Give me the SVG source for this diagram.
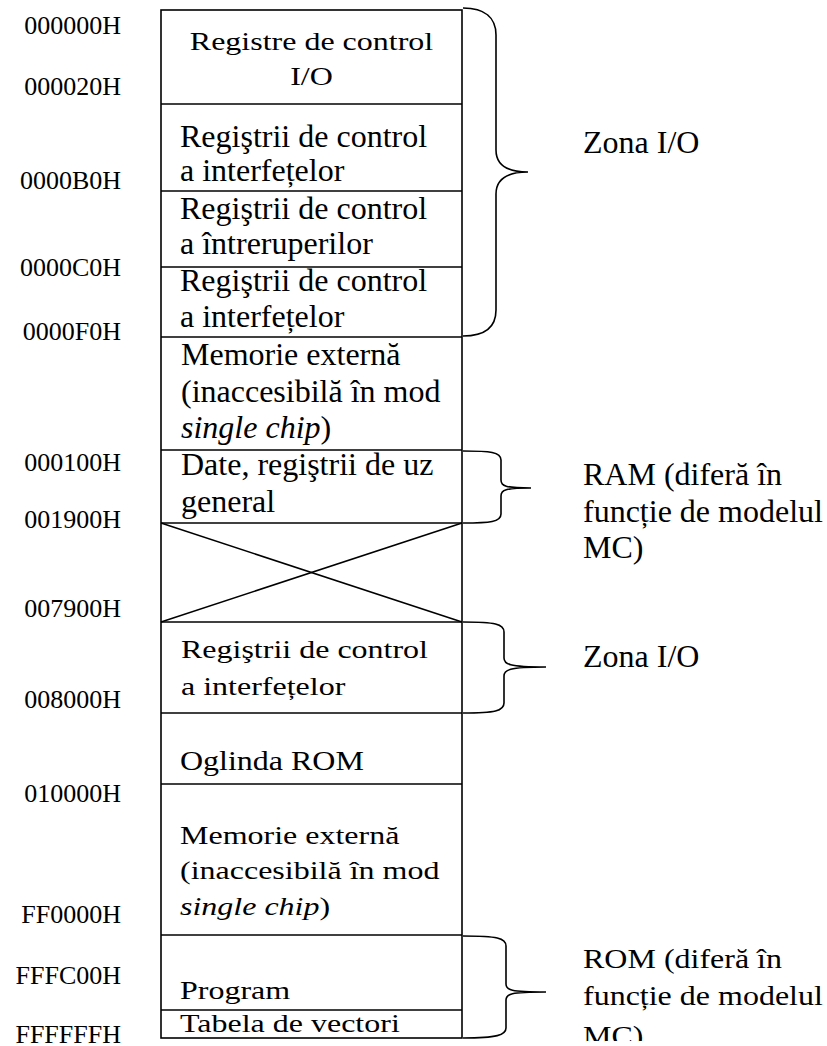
<svg xmlns="http://www.w3.org/2000/svg" width="827" height="1046" viewBox="0 0 827 1046">
<style>
.t{font-family:"Liberation Serif","Times New Roman",serif;font-size:32px;fill:#000}
.l{font-family:"Liberation Serif","Times New Roman",serif;font-size:26px;fill:#000;text-anchor:end}
.ln{stroke:#000;stroke-width:1.6;fill:none}
.br{stroke:#000;stroke-width:1.6;fill:none}
</style>
<defs><clipPath id="cb"><rect x="0" y="0" width="827" height="1041"/></clipPath></defs>
<rect width="827" height="1046" fill="#fff"/>
<g id="labels">
<text class="l" x="121" y="34">000000H</text>
<text class="l" x="121" y="95">000020H</text>
<text class="l" x="121" y="189">0000B0H</text>
<text class="l" x="121" y="276">0000C0H</text>
<text class="l" x="121" y="340">0000F0H</text>
<text class="l" x="121" y="471">000100H</text>
<text class="l" x="121" y="528">001900H</text>
<text class="l" x="121" y="617">007900H</text>
<text class="l" x="121" y="708">008000H</text>
<text class="l" x="121" y="802">010000H</text>
<text class="l" x="121" y="923">FF0000H</text>
<text class="l" x="121" y="984">FFFC00H</text>
<text class="l" x="121" y="1043">FFFFFFH</text>
</g>
<g id="memory-map">
<rect class="ln" x="161" y="10" width="301" height="1028"/>
<g id="r1"><line class="ln" x1="161" y1="104" x2="462" y2="104"/>
<text class="t" text-anchor="middle" transform="translate(311.5,50) scale(1,0.82)">Registre de control</text>
<text class="t" text-anchor="middle" transform="translate(311.5,85) scale(1,0.82)">I/O</text></g>
<g id="r2"><line class="ln" x1="161" y1="191" x2="462" y2="191"/>
<text class="t" x="180" y="147">Regiştrii de control</text>
<text class="t" x="180" y="181">a interfețelor</text></g>
<g id="r3"><line class="ln" x1="161" y1="267" x2="462" y2="267"/>
<text class="t" x="180" y="219">Regiştrii de control</text>
<text class="t" x="180" y="254">a întreruperilor</text></g>
<g id="r4"><line class="ln" x1="161" y1="337" x2="462" y2="337"/>
<text class="t" x="180" y="291">Regiştrii de control</text>
<text class="t" x="180" y="327">a interfețelor</text></g>
<g id="r5"><line class="ln" x1="161" y1="450" x2="462" y2="450"/>
<text class="t" x="181" y="365">Memorie externă</text>
<text class="t" x="181" y="402">(inaccesibilă în mod</text>
<text class="t" x="181" y="438"><tspan font-style="italic">single chip</tspan>)</text></g>
<g id="r6"><line class="ln" x1="161" y1="523" x2="462" y2="523"/>
<text class="t" x="181" y="475">Date, regiştrii de uz</text>
<text class="t" x="181" y="512">general</text></g>
<g id="r7"><line class="ln" x1="161" y1="622" x2="462" y2="622"/>
<line class="ln" x1="161" y1="523" x2="462" y2="622"/>
<line class="ln" x1="161" y1="622" x2="462" y2="523"/></g>
<g id="r8"><line class="ln" x1="161" y1="713" x2="462" y2="713"/>
<text class="t" transform="translate(181,658) scale(1,0.8)">Regiştrii de control</text>
<text class="t" transform="translate(181,695) scale(1,0.8)">a interfețelor</text></g>
<g id="r9"><line class="ln" x1="161" y1="784" x2="462" y2="784"/>
<text class="t" transform="translate(180,770) scale(1,0.86)">Oglinda ROM</text></g>
<g id="r10"><line class="ln" x1="161" y1="935" x2="462" y2="935"/>
<text class="t" transform="translate(180,844) scale(1,0.78)">Memorie externă</text>
<text class="t" transform="translate(180,879) scale(1,0.78)">(inaccesibilă în mod</text>
<text class="t" transform="translate(180,915) scale(1,0.78)"><tspan font-style="italic">single chip</tspan>)</text></g>
<g id="r11"><line class="ln" x1="161" y1="1010" x2="462" y2="1010"/>
<text class="t" transform="translate(180,999) scale(1,0.8)">Program</text></g>
<g id="r12">
<text class="t" transform="translate(180,1032) scale(1,0.8)">Tabela de vectori</text></g>
</g>
<g id="connectors">
<path class="br" d="M463,8 C485,8 496,18 496,35 L496,150 C496,163 505,172 528,172 C505,172 496,181 496,194 L496,310 C496,327 485,336 463,336"/>
<path class="br" d="M463,451 C490,451 501,452 501,460 L501,480 C501,486 505,488 531,488 C505,488 501,490 501,496 L501,514 C501,522 490,523 463,523"/>
<path class="br" d="M463,622 C495,622 504,624 504,632 L504,658 C504,664 508,667 546,667 C508,667 504,670 504,676 L504,703 C504,711 495,713 463,713"/>
<path class="br" d="M463,936 C497,936 506,938 506,946 L506,984 C506,990 510,992 546,992 C510,992 506,994 506,1000 L506,1028 C506,1035 497,1038 463,1038"/>
</g>
<g id="zones">
<text class="t" x="583" y="153">Zona I/O</text>
<text class="t" x="583" y="485">RAM (diferă în</text>
<text class="t" x="583" y="522">funcție de modelul</text>
<text class="t" x="583" y="558">MC)</text>
<text class="t" x="583" y="667">Zona I/O</text>
<g clip-path="url(#cb)">
<text class="t" transform="translate(583,968) scale(1,0.85)">ROM (diferă în</text>
<text class="t" transform="translate(583,1005) scale(1,0.85)">funcție de modelul</text>
<text class="t" transform="translate(583,1045) scale(1,0.85)">MC)</text>
</g>
</g>
</svg>
